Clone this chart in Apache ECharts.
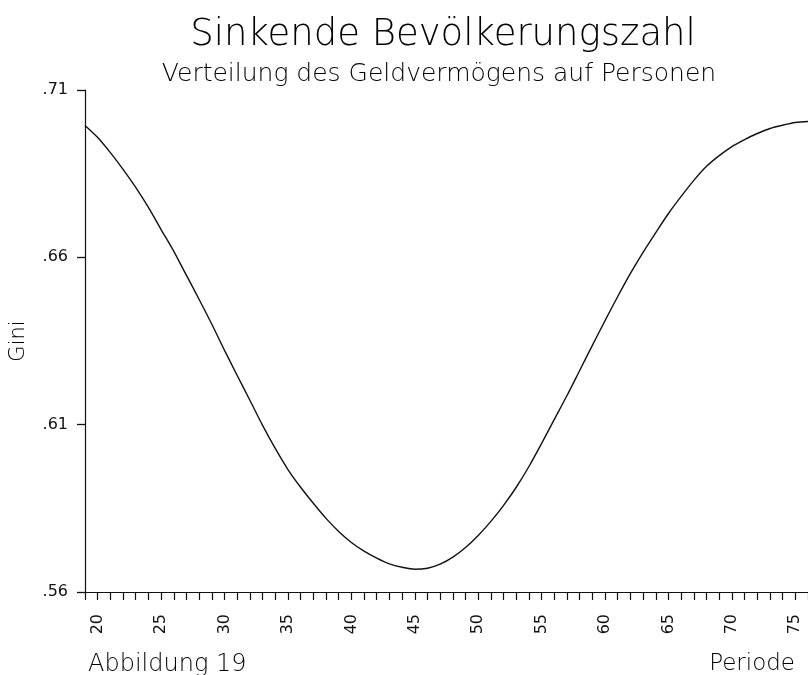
<!DOCTYPE html>
<html>
<head>
<meta charset="utf-8">
<script src="https://cdn.jsdelivr.net/npm/echarts@6/dist/echarts.min.js"></script>
<style>
html,body{margin:0;padding:0;background:#fff;}
#chart{width:808px;height:675px;}
</style>
</head>
<body>
<div id="chart"></div>
<script>
var titleText = 'Sinkende Bevölkerungszahl';
var subtitleText = 'Verteilung des Geldvermögens auf Personen';
var figureText = 'Abbildung 19';
var xAxisName = 'Periode';
var yAxisName = 'Gini';

var periods = [19,20,21,22,23,24,25,26,27,28,29,30,31,32,33,34,35,36,37,38,39,40,41,42,43,44,45,46,47,48,49,50,51,52,53,54,55,56,57,58,59,60,61,62,63,64,65,66,67,68,69,70,71,72,73,74,75,76];
var gini = [0.6994,0.6958,0.6913,0.6863,0.6809,0.6749,0.6683,0.6618,0.6546,0.6474,0.6400,0.6322,0.6247,0.6173,0.6098,0.6029,0.5966,0.5913,0.5865,0.5820,0.5781,0.5748,0.5722,0.5701,0.5684,0.5674,0.5668,0.5671,0.5683,0.5704,0.5733,0.5769,0.5811,0.5859,0.5913,0.5975,0.6044,0.6116,0.6187,0.6262,0.6337,0.6411,0.6483,0.6552,0.6615,0.6674,0.6731,0.6782,0.6830,0.6872,0.6904,0.6931,0.6952,0.6970,0.6985,0.6995,0.7003,0.7006];

var xTickValues = periods.slice();
var xLabelValues = [20,25,30,35,40,45,50,55,60,65,70,75];
var xMin = 19, xMax = 76;
var yMin = 0.56, yMax = 0.71, yStep = 0.05;

var FONT = "'DejaVu Sans', sans-serif";
var INK = '#111';

var chart = echarts.init(document.getElementById('chart'), null, {renderer:'canvas'});
var seriesData = periods.map(function(p,i){ return [p, gini[i]]; });

chart.setOption({
  animation: false,
  backgroundColor: '#fff',
  title: [
    {text: titleText, left: 438, textAlign: 'center', top: 12, textStyle:{fontFamily:FONT, fontSize:37, fontWeight:200, color:'#000'}},
    {text: subtitleText, left: 434, textAlign: 'center', top: 57, textStyle:{fontFamily:FONT, fontSize:25, fontWeight:200, color:'#000'}},
    {text: figureText, left: 83, top: 648, textStyle:{fontFamily:FONT, fontSize:24, fontWeight:200, color:'#000'}},
    {text: xAxisName, right: 8, top: 648, textStyle:{fontFamily:FONT, fontSize:23, fontWeight:200, color:'#000'}}
  ],
  grid: {left: 82, right: -2, top: 90, bottom: 83, containLabel: false},
  xAxis: {
    type: 'value', min: xMin, max: xMax,
    axisLine: {show: true, onZero: false, lineStyle: {color: INK, width: 1.2}},
    axisTick: {show: true, length: 8, customValues: xTickValues, lineStyle: {color: INK, width: 1.2}},
    axisLabel: {show: true, rotate: 90, margin: 22, customValues: xLabelValues, fontFamily: FONT, fontSize: 16, fontWeight: 'normal', color: '#111',
      formatter: function(v){ return String(Math.round(v)); }},
    splitLine: {show: false}
  },
  yAxis: {
    type: 'value', min: yMin, max: yMax, interval: yStep,
    name: yAxisName, nameLocation: 'middle', nameGap: 56, nameRotate: 90,
    nameTextStyle: {fontFamily: FONT, fontSize: 21, fontWeight: 200, color: '#000'},
    axisLine: {show: true, onZero: false, lineStyle: {color: INK, width: 1.2}},
    axisTick: {show: true, inside: false, length: 8, lineStyle: {color: INK, width: 1.3}},
    axisLabel: {show: true, margin: 17, fontFamily: FONT, fontSize: 16, fontWeight: 'normal', color: '#111',
      formatter: function(v){ return (Math.round(v*100)/100).toFixed(2).replace(/^0/, ''); }},
    splitLine: {show: false}
  },
  series: [{
    type: 'line', data: seriesData, smooth: 0.3, symbol: 'none', clip: true,
    lineStyle: {color: INK, width: 1.4}
  }]
});
</script>
</body>
</html>
